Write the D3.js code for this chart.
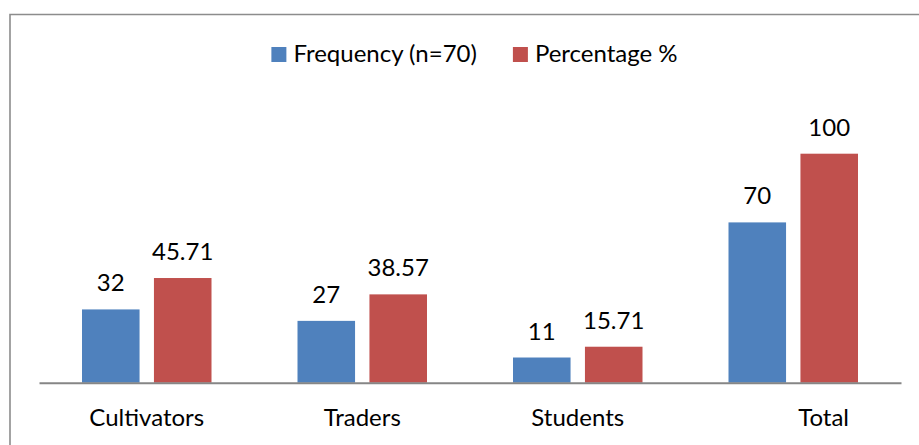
<!DOCTYPE html>
<html>
<head>
<meta charset="utf-8">
<script src="https://d3js.org/d3.v7.min.js"></script>
<style>
    body { margin: 0; background: #fff; }
    text { font-family: Lato, "Open Sans", sans-serif; fill: #000; }
    .cat { white-space: pre; }
</style>
</head>
<body>
<svg width="919" height="445"></svg>
<script>
    // chart data
    var categories = ['Cultivators', 'Traders', 'Students', '          Total'];
    var seriesNames = ['Frequency (n=70)', 'Percentage %'];
    var frequency = [32, 27, 11, 70];
    var percentage = [45.71, 38.57, 15.71, 100];
    var valueLabels = [['32', '27', '11', '70'], ['45.71', '38.57', '15.71', '100']];
    var colors = ['#4F81BD', '#C0504D'];

    var svg = d3.select('svg');
    var fontSize = 24;

    // outer frame (only top and left edges fall inside the picture)
    svg.append('path')
        .attr('d', 'M10,445 V14.5 H919')
        .attr('fill', 'none')
        .attr('stroke', '#8c8c8c')
        .attr('stroke-width', 1.6);

    var x = d3.scaleBand()
        .domain(categories)
        .range([39, 901])
        .paddingInner(0)
        .paddingOuter(0);

    var x1 = d3.scaleBand()
        .domain([0, 1])
        .range([43, x.bandwidth() - 43])
        .paddingInner(0.2);

    var y = d3.scaleLinear()
        .domain([0, 120])
        .range([382.7, 107.9]);

    var series = [frequency, percentage];

    series.forEach(function (vals, s) {
        var g = svg.append('g');
        g.selectAll('rect')
            .data(vals)
            .enter()
            .append('rect')
            .attr('x', function (d, i) { return x(categories[i]) + x1(s); })
            .attr('y', function (d) { return y(d); })
            .attr('width', x1.bandwidth())
            .attr('height', function (d) { return y(0) - y(d); })
            .attr('fill', colors[s]);

        g.selectAll('text')
            .data(vals)
            .enter()
            .append('text')
            .attr('x', function (d, i) { return x(categories[i]) + x1(s) + x1.bandwidth() / 2; })
            .attr('y', function (d) { return y(d) - 18; })
            .attr('text-anchor', 'middle')
            .style('font-size', fontSize + 'px')
            .text(function (d, i) { return valueLabels[s][i]; });
    });

    // category axis
    var axis = svg.append('g')
        .attr('transform', 'translate(0,' + y(0) + ')')
        .call(d3.axisBottom(x).tickSize(0).tickPadding(0));
    axis.select('.domain').attr('stroke', '#868686').attr('stroke-width', 2);
    axis.selectAll('.tick text')
        .attr('class', 'cat')
        .attr('y', 43)
        .attr('dy', 0)
        .style('font-size', fontSize + 'px')
        .style('font-family', 'Lato, "Open Sans", sans-serif')
        .attr('fill', '#000');

    // legend
    var legend = svg.append('g');
    var items = legend.selectAll('g')
        .data(seriesNames)
        .enter()
        .append('g');
    items.append('rect')
        .attr('width', 15)
        .attr('height', 15)
        .attr('y', 47)
        .attr('fill', function (d, i) { return colors[i]; });
    items.append('text')
        .attr('x', 22)
        .attr('y', 62)
        .style('font-size', fontSize + 'px')
        .text(function (d) { return d; });

    var offset = 0;
    items.each(function () {
        var w = d3.select(this).select('text').node().getComputedTextLength();
        d3.select(this).attr('transform', 'translate(' + offset + ',0)');
        offset += 22 + w + 36;
    });
    var total = offset - 36;
    legend.attr('transform', 'translate(' + (474.5 - total / 2) + ',0)');
</script>
</body>
</html>
